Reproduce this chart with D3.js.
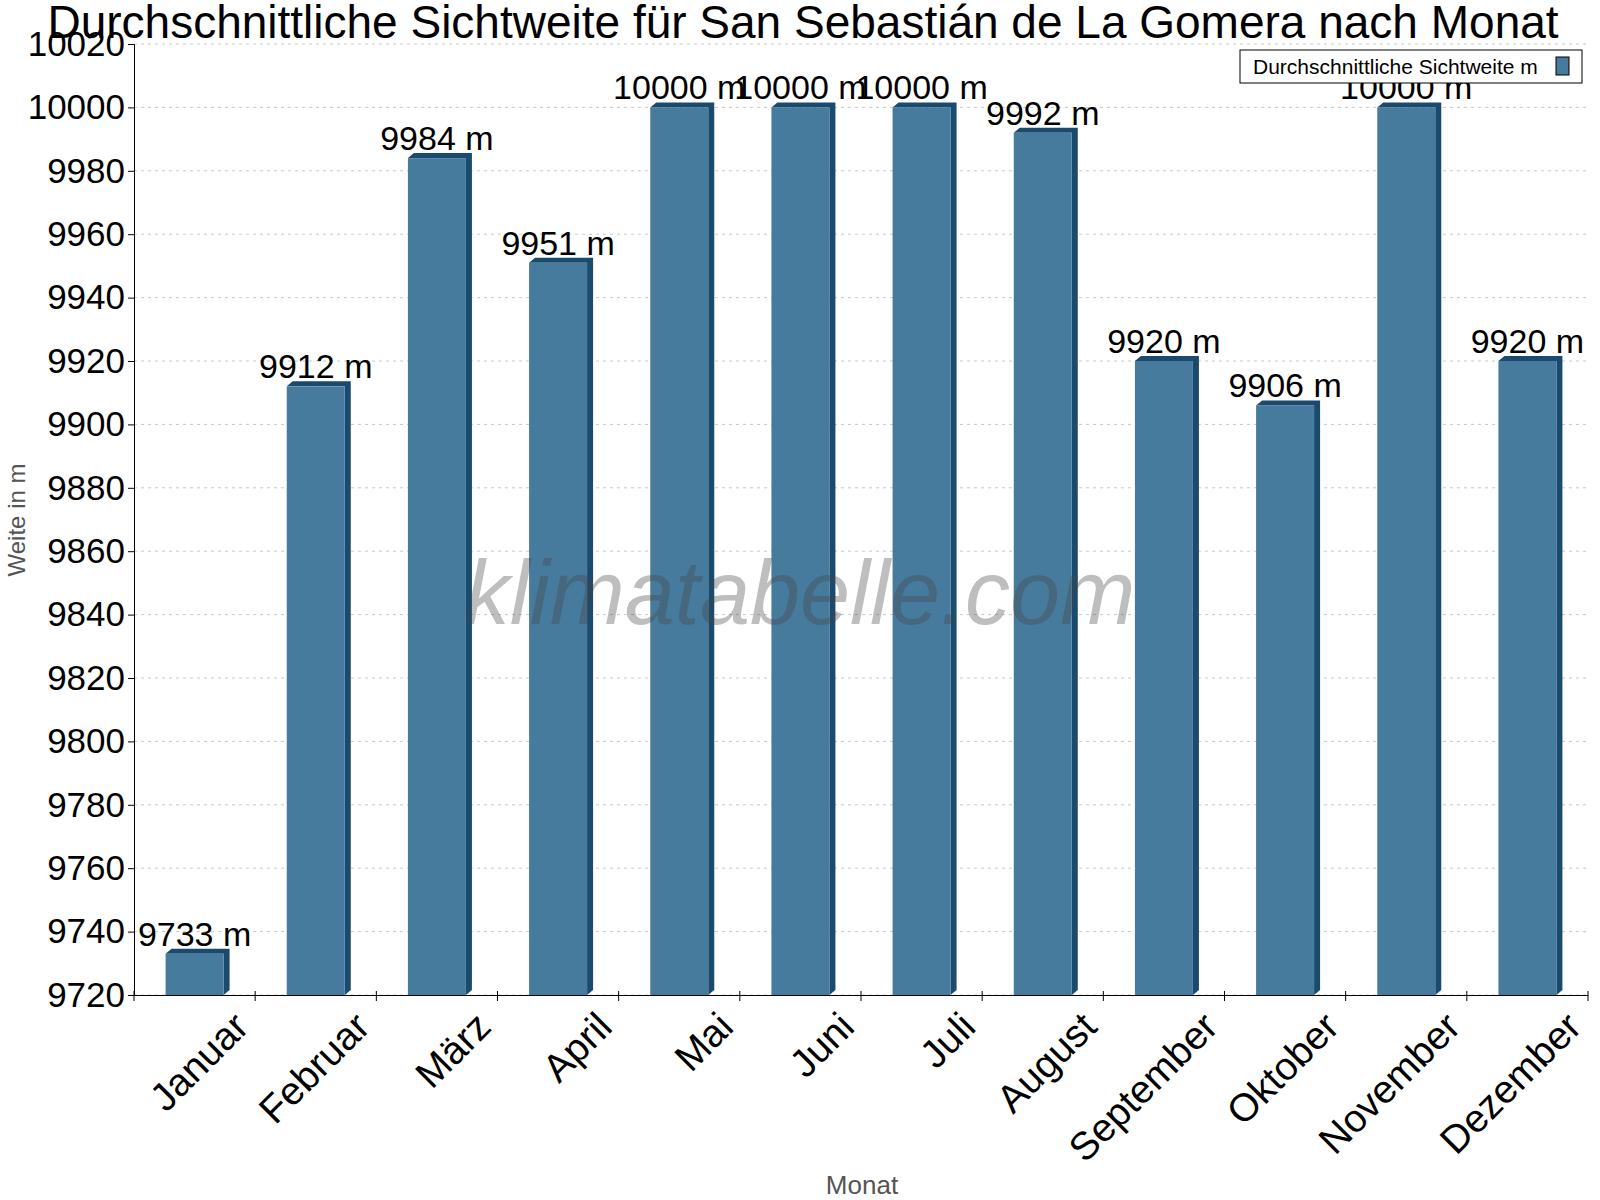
<!DOCTYPE html>
<html><head><meta charset="utf-8">
<script src="https://cdn.jsdelivr.net/npm/d3@7"></script>
<style>body{margin:0;background:#fff}text{font-family:Arial,"Liberation Sans",sans-serif}</style>
</head><body><svg id="c" width="1600" height="1200"></svg>
<script>
var months = ['Januar','Februar','März','April','Mai','Juni','Juli','August','September','Oktober','November','Dezember'];
var values = [9733,9912,9984,9951,10000,10000,10000,9992,9920,9906,10000,9920];
var yTicks = d3.range(9720, 10021, 20);

var L = 134, R = 1588, T = 44, B = 995;
var svg = d3.select('#c');
var xs = d3.scaleBand().domain(months).range([L, R]);
var ys = d3.scaleLinear().domain([9720, 10020]).range([B, T]);

// grid
svg.append('g').selectAll('line').data(yTicks).enter().append('line')
  .attr('x1', L).attr('x2', R).attr('y1', d => ys(d)).attr('y2', d => ys(d))
  .attr('stroke', '#c8c8c8').attr('stroke-dasharray', '3,4');

var bw = 58, dx = 6, dy = 5;
var g = svg.append('g');
months.forEach(function(m, i) {
  var x0 = xs(m) + xs.bandwidth() / 2 - bw / 2, y0 = ys(values[i]);
  g.append('polygon').attr('fill', '#1a4a6e')
    .attr('points', [[x0, y0], [x0 + dx, y0 - dy], [x0 + bw + dx, y0 - dy], [x0 + bw + dx, B - dy], [x0 + bw, B], [x0 + bw, y0]].join(' '));
  g.append('rect').attr('x', x0).attr('y', y0).attr('width', bw).attr('height', B - y0).attr('fill', '#477b9e');
  g.append('text').attr('x', x0 + bw / 2).attr('y', y0 - 8).attr('text-anchor', 'middle')
    .attr('font-size', 34).text(values[i] + ' m');
});

// watermark
svg.append('text').attr('x', 800).attr('y', 624).attr('text-anchor', 'middle')
  .attr('font-size', 90).attr('font-style', 'italic').attr('fill', '#444').attr('fill-opacity', 0.35)
  .text('klimatabelle.com');

// axes
var ya = svg.append('g').attr('transform', 'translate(' + L + ',0)')
  .call(d3.axisLeft(ys).tickValues(yTicks).tickFormat(d3.format('d')).tickSize(6));
ya.selectAll('text').attr('font-size', 35).attr('fill', '#000');
ya.select('.domain').attr('stroke', '#000');
var xa = svg.append('g').attr('transform', 'translate(0,' + B + ')')
  .call(d3.axisBottom(xs).tickSize(0).tickFormat(''));
xa.select('.domain').attr('stroke', '#000');
svg.append('g').selectAll('line').data(d3.range(13)).enter().append('line')
  .attr('x1', i => L + i * xs.step()).attr('x2', i => L + i * xs.step())
  .attr('y1', B - 4).attr('y2', B + 6).attr('stroke', '#000');
svg.append('g').selectAll('text').data(months).enter().append('text')
  .attr('transform', d => 'translate(' + (xs(d) + xs.bandwidth() / 2 + 34) + ',' + (B + 12) + ') rotate(-45)')
  .attr('text-anchor', 'end').attr('dy', '0.8em').attr('font-size', 39).text(d => d);

svg.append('text').attr('x', 862).attr('y', 1194).attr('text-anchor', 'middle')
  .attr('font-size', 26).attr('fill', '#555').text('Monat');
svg.append('text').attr('transform', 'translate(25,520) rotate(-90)').attr('text-anchor', 'middle')
  .attr('font-size', 24).attr('fill', '#555').text('Weite in m');
svg.append('text').attr('x', 803).attr('y', 38).attr('text-anchor', 'middle')
  .attr('font-size', 46).text('Durchschnittliche Sichtweite für San Sebastián de La Gomera nach Monat');

// legend
svg.append('rect').attr('x', 1240).attr('y', 50).attr('width', 342).attr('height', 33)
  .attr('fill', '#fff').attr('stroke', '#000');
svg.append('text').attr('x', 1253).attr('y', 74).attr('font-size', 21).text('Durchschnittliche Sichtweite m');
svg.append('rect').attr('x', 1556).attr('y', 57).attr('width', 13).attr('height', 18)
  .attr('fill', '#477b9e').attr('stroke', '#000');
</script></body></html>
